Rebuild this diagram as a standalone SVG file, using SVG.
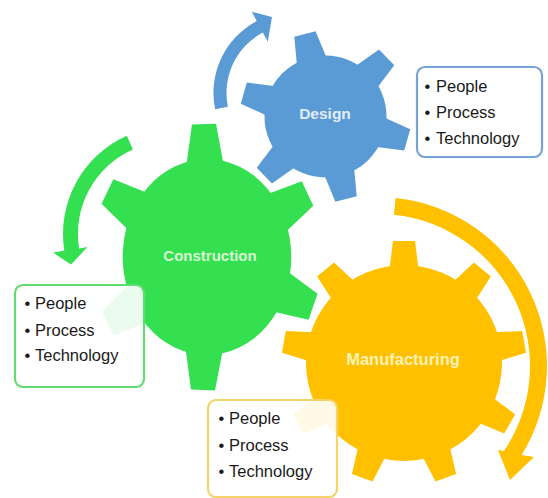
<svg xmlns="http://www.w3.org/2000/svg" width="548" height="498" viewBox="0 0 548 498">
<style>
.lbl{font-family:"Liberation Sans",Arial,sans-serif;font-weight:bold;text-anchor:middle}
.item{font-family:"Liberation Sans",Arial,sans-serif;font-size:16.5px;fill:#1a1a1a}
.box{fill:#fff;fill-opacity:0.9;stroke-width:2.2}
.blue{fill:#5B9BD5}
.green{fill:#34E050}
.gold{fill:#FFC000}
</style>
<defs>
<polygon id="toothD" points="-16,-52 -11,-85 11,-85 16,-52"/>
<polygon id="toothC" points="-23,-85 -14,-133 14,-133 23,-85"/>
<polygon id="toothM" points="-15,-90 -11,-122 11,-122 15,-90"/>
</defs>
<rect width="548" height="498" fill="#fff"/>
<g id="connectors">
<path class="blue" d="M215.1,109.3 A81.5,81.5 0 0 1 256.7,21 L251.8,11.8 L272,17 L267.8,41.8 L262.8,32.5 A68.5,68.5 0 0 0 227.9,106.7 Z"/>
<path class="green" d="M126.8,135.8 A107.5,107.5 0 0 0 64.3,250.8 L53,252.6 L71,264.4 L87.5,247.1 L79.1,248.5 A92.5,92.5 0 0 1 132.9,149.5 Z"/>
<path class="gold" d="M395.7,197.9 A169,169 0 0 1 521.6,455 L534,457 L510,480 L498,450 L504,451 A152,152 0 0 0 393.9,214.8 Z"/>
</g>
<g id="design">
<g class="blue" transform="translate(325.5,116.5)">
<circle r="61"/>
<use href="#toothD" transform="rotate(-14)"/>
<use href="#toothD" transform="rotate(46)"/>
<use href="#toothD" transform="rotate(106)"/>
<use href="#toothD" transform="rotate(166)"/>
<use href="#toothD" transform="rotate(226)"/>
<use href="#toothD" transform="rotate(286)"/>
</g>
<text class="lbl" x="325" y="119" font-size="15.5" fill="#E2ECF7">Design</text>
</g>
<g id="manufacturing">
<g class="gold" transform="translate(404,363)">
<circle r="98"/>
<use href="#toothM"/>
<use href="#toothM" transform="rotate(40)"/>
<use href="#toothM" transform="rotate(80)"/>
<use href="#toothM" transform="rotate(120)"/>
<use href="#toothM" transform="rotate(160)"/>
<use href="#toothM" transform="rotate(200)"/>
<use href="#toothM" transform="rotate(240)"/>
<use href="#toothM" transform="rotate(280)"/>
<use href="#toothM" transform="rotate(320)"/>
</g>
<text class="lbl" x="403" y="365" font-size="16.5" fill="#FDF2B5">Manufacturing</text>
</g>
<g id="construction">
<g class="green" transform="translate(207,257) scale(0.86,1)">
<circle r="98"/>
<use href="#toothC" transform="rotate(-1.5)"/>
<use href="#toothC" transform="rotate(61.5)"/>
<use href="#toothC" transform="rotate(112)"/>
<use href="#toothC" transform="rotate(182)"/>
<use href="#toothC" transform="rotate(240)"/>
<use href="#toothC" transform="rotate(299.5)"/>
</g>
<text class="lbl" x="210" y="261" font-size="15" fill="#D7F7D2">Construction</text>
</g>
<g id="design-list">
<rect class="box" x="417" y="67" width="125" height="90" rx="8" stroke="#78A2D4"/>
<text class="item" x="424.5" y="92">•<tspan x="436">People</tspan></text>
<text class="item" x="424.5" y="118">•<tspan x="436">Process</tspan></text>
<text class="item" x="424.5" y="144">•<tspan x="436">Technology</tspan></text>
</g>
<g id="construction-list">
<rect class="box" x="15" y="285" width="129" height="102" rx="8" stroke="#62DB73"/>
<text class="item" x="24.5" y="309">•<tspan x="35">People</tspan></text>
<text class="item" x="24.5" y="336">•<tspan x="35">Process</tspan></text>
<text class="item" x="24.5" y="361">•<tspan x="35">Technology</tspan></text>
</g>
<g id="manufacturing-list">
<rect class="box" x="208" y="400" width="129" height="97" rx="8" stroke="#F4D469"/>
<text class="item" x="218.5" y="424">•<tspan x="229">People</tspan></text>
<text class="item" x="218.5" y="451">•<tspan x="229">Process</tspan></text>
<text class="item" x="218.5" y="477">•<tspan x="229">Technology</tspan></text>
</g>
</svg>
